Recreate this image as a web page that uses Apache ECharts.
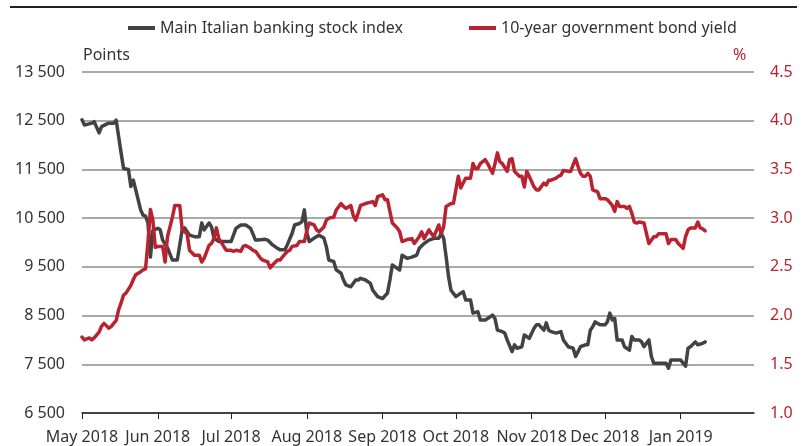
<!DOCTYPE html>
<html>
<head>
<meta charset="utf-8">
<script src="https://cdn.jsdelivr.net/npm/echarts@6/dist/echarts.min.js"></script>
<style>
  html, body { margin: 0; padding: 0; background: #fff; }
  #chart { width: 808px; height: 446px; }
</style>
</head>
<body>
<div id="chart"></div>
<script>
// Main Italian banking stock index (points)
const stockDates = [
  '2018-05-01','2018-05-02','2018-05-05','2018-05-06','2018-05-08','2018-05-09','2018-05-11','2018-05-12',
  '2018-05-14','2018-05-15','2018-05-16','2018-05-17','2018-05-18','2018-05-20','2018-05-21','2018-05-22',
  '2018-05-23','2018-05-25','2018-05-26','2018-05-27','2018-05-28','2018-05-29','2018-05-30','2018-06-01',
  '2018-06-02','2018-06-03','2018-06-05','2018-06-07','2018-06-09','2018-06-11','2018-06-12','2018-06-14',
  '2018-06-16','2018-06-18','2018-06-19','2018-06-20','2018-06-22','2018-06-23','2018-06-24','2018-06-26',
  '2018-06-28','2018-07-01','2018-07-03','2018-07-05','2018-07-07','2018-07-09','2018-07-11','2018-07-12',
  '2018-07-15','2018-07-16','2018-07-18','2018-07-20','2018-07-21','2018-07-23','2018-07-24','2018-07-26',
  '2018-07-27','2018-07-29','2018-07-30','2018-07-31','2018-08-01','2018-08-02','2018-08-04','2018-08-06',
  '2018-08-08','2018-08-09','2018-08-10','2018-08-12','2018-08-13','2018-08-15','2018-08-16','2018-08-17',
  '2018-08-19','2018-08-21','2018-08-22','2018-08-23','2018-08-25','2018-08-27','2018-08-28','2018-08-30',
  '2018-09-01','2018-09-03','2018-09-04','2018-09-05','2018-09-07','2018-09-08','2018-09-09','2018-09-11',
  '2018-09-13','2018-09-15','2018-09-16','2018-09-18','2018-09-20','2018-09-22','2018-09-24','2018-09-25',
  '2018-09-26','2018-09-27','2018-09-28','2018-09-29','2018-10-01','2018-10-03','2018-10-04','2018-10-05',
  '2018-10-07','2018-10-08','2018-10-10','2018-10-11','2018-10-13','2018-10-14','2018-10-16','2018-10-17',
  '2018-10-18','2018-10-20','2018-10-21','2018-10-22','2018-10-24','2018-10-25','2018-10-26','2018-10-28',
  '2018-10-29','2018-10-30','2018-10-31','2018-11-02','2018-11-03','2018-11-04','2018-11-06','2018-11-07',
  '2018-11-08','2018-11-09','2018-11-11','2018-11-13','2018-11-14','2018-11-16','2018-11-18','2018-11-19',
  '2018-11-20','2018-11-21','2018-11-23','2018-11-24','2018-11-25','2018-11-26','2018-11-27','2018-11-29',
  '2018-12-01','2018-12-02','2018-12-03','2018-12-04','2018-12-05','2018-12-06','2018-12-08','2018-12-09',
  '2018-12-11','2018-12-12','2018-12-13','2018-12-15','2018-12-16','2018-12-17','2018-12-18','2018-12-19',
  '2018-12-20','2018-12-21','2018-12-23','2018-12-26','2018-12-27','2018-12-28','2018-12-30','2019-01-01',
  '2019-01-02','2019-01-03','2019-01-04','2019-01-05','2019-01-07','2019-01-08','2019-01-10','2019-01-11'
];
const stockValues = [
  12520,12410,12450,12480,12250,12380,12430,12450,
  12450,12510,12170,11840,11520,11500,11150,11280,
  11080,10670,10560,10540,10400,9700,10250,10290,
  10260,10050,9890,9640,9640,10260,10300,10150,
  10120,10120,10400,10260,10400,10320,10090,10020,
  10020,10020,10290,10360,10360,10290,10050,10050,
  10065,10050,9950,9880,9850,9850,9950,10190,
  10360,10390,10430,10670,10200,10020,10090,10150,
  10090,9910,9640,9610,9440,9370,9230,9130,
  9090,9230,9230,9265,9230,9160,9020,8890,
  8850,8960,9230,9540,9470,9435,9740,9675,
  9700,9743,9880,9980,10050,10086,10086,10190,
  10086,9710,9300,9020,8890,8960,8990,8820,
  8820,8550,8580,8410,8410,8440,8510,8440,
  8200,8170,8140,8000,7760,7900,7830,7860,
  8100,8070,8030,8240,8310,8310,8200,8350,
  8200,8170,8140,8170,8000,7860,7830,7660,
  7760,7860,7900,7900,8200,8270,8370,8310,
  8310,8370,8550,8410,8440,8000,8000,7860,
  7790,8070,8000,8000,7960,7860,7930,8000,
  7660,7520,7520,7520,7420,7590,7590,7590,
  7520,7460,7830,7860,7960,7900,7930,7960
];

// 10-year government bond yield (%)
const yieldDates = [
  '2018-05-01','2018-05-02','2018-05-04','2018-05-05','2018-05-06','2018-05-08','2018-05-09','2018-05-10',
  '2018-05-12','2018-05-13','2018-05-15','2018-05-16','2018-05-17','2018-05-18','2018-05-19','2018-05-21',
  '2018-05-22','2018-05-23','2018-05-25','2018-05-26','2018-05-27','2018-05-28','2018-05-29','2018-05-30',
  '2018-05-31','2018-06-01','2018-06-03','2018-06-04','2018-06-05','2018-06-07','2018-06-08','2018-06-10',
  '2018-06-11','2018-06-13','2018-06-14','2018-06-16','2018-06-18','2018-06-19','2018-06-20','2018-06-22',
  '2018-06-23','2018-06-24','2018-06-25','2018-06-26','2018-06-28','2018-06-29','2018-07-01','2018-07-02',
  '2018-07-03','2018-07-05','2018-07-06','2018-07-07','2018-07-09','2018-07-10','2018-07-11','2018-07-13',
  '2018-07-14','2018-07-16','2018-07-17','2018-07-18','2018-07-20','2018-07-21','2018-07-22','2018-07-24',
  '2018-07-25','2018-07-26','2018-07-28','2018-07-29','2018-07-31','2018-08-01','2018-08-02','2018-08-04',
  '2018-08-05','2018-08-06','2018-08-08','2018-08-09','2018-08-10','2018-08-12','2018-08-13','2018-08-15',
  '2018-08-16','2018-08-17','2018-08-19','2018-08-20','2018-08-21','2018-08-22','2018-08-23','2018-08-25',
  '2018-08-28','2018-08-29','2018-08-30','2018-09-01','2018-09-02','2018-09-03','2018-09-05','2018-09-07',
  '2018-09-08','2018-09-09','2018-09-11','2018-09-13','2018-09-14','2018-09-16','2018-09-17','2018-09-18',
  '2018-09-20','2018-09-21','2018-09-22','2018-09-24','2018-09-25','2018-09-26','2018-09-27','2018-09-29',
  '2018-09-30','2018-10-01','2018-10-02','2018-10-03','2018-10-04','2018-10-05','2018-10-07','2018-10-08',
  '2018-10-09','2018-10-10','2018-10-11','2018-10-12','2018-10-13','2018-10-14','2018-10-16','2018-10-17',
  '2018-10-18','2018-10-19','2018-10-20','2018-10-22','2018-10-23','2018-10-24','2018-10-25','2018-10-27',
  '2018-10-28','2018-10-29','2018-10-30','2018-10-31','2018-11-02','2018-11-03','2018-11-04','2018-11-06',
  '2018-11-07','2018-11-08','2018-11-09','2018-11-11','2018-11-12','2018-11-13','2018-11-14','2018-11-16',
  '2018-11-17','2018-11-18','2018-11-19','2018-11-20','2018-11-21','2018-11-22','2018-11-23','2018-11-24',
  '2018-11-25','2018-11-26','2018-11-28','2018-11-29','2018-12-01','2018-12-02','2018-12-04','2018-12-05',
  '2018-12-06','2018-12-07','2018-12-09','2018-12-10','2018-12-11','2018-12-12','2018-12-13','2018-12-14',
  '2018-12-15','2018-12-17','2018-12-18','2018-12-19','2018-12-21','2018-12-22','2018-12-23','2018-12-26',
  '2018-12-27','2018-12-28','2018-12-30','2018-12-31','2019-01-02','2019-01-03','2019-01-04','2019-01-05',
  '2019-01-07','2019-01-08','2019-01-09','2019-01-10','2019-01-11'
];
const yieldValues = [
  1.78,1.75,1.77,1.75,1.77,1.83,1.89,1.92,
  1.87,1.89,1.95,2.06,2.13,2.21,2.23,2.31,
  2.37,2.42,2.45,2.47,2.48,2.75,3.09,2.98,
  2.70,2.71,2.71,2.55,2.81,3.01,3.13,3.13,
  2.88,2.84,2.67,2.62,2.62,2.55,2.59,2.72,
  2.74,2.79,2.90,2.79,2.71,2.67,2.67,2.66,
  2.67,2.66,2.71,2.72,2.69,2.67,2.66,2.59,
  2.57,2.55,2.49,2.52,2.57,2.57,2.60,2.66,
  2.67,2.71,2.72,2.76,2.76,2.87,2.95,2.93,
  2.88,2.86,2.91,2.98,3.00,3.01,3.08,3.15,
  3.12,3.10,3.13,3.03,2.98,3.05,3.13,3.15,
  3.17,3.13,3.22,3.24,3.19,3.19,2.95,2.90,
  2.86,2.76,2.78,2.79,2.74,2.81,2.86,2.79,
  2.88,2.84,2.81,2.93,2.84,2.91,3.12,3.15,
  3.15,3.29,3.43,3.31,3.36,3.41,3.41,3.56,
  3.51,3.51,3.56,3.58,3.60,3.56,3.46,3.56,
  3.67,3.58,3.56,3.48,3.60,3.61,3.48,3.43,
  3.43,3.32,3.48,3.43,3.32,3.29,3.29,3.36,
  3.34,3.39,3.39,3.41,3.43,3.44,3.49,3.48,
  3.48,3.55,3.61,3.53,3.46,3.43,3.43,3.46,
  3.43,3.29,3.27,3.20,3.20,3.19,3.13,3.07,
  3.17,3.12,3.12,3.10,3.12,3.05,2.96,2.95,
  2.96,2.95,2.84,2.74,2.81,2.81,2.84,2.84,
  2.74,2.78,2.78,2.74,2.69,2.81,2.88,2.90,
  2.90,2.96,2.90,2.89,2.87
];

const stockName = 'Main Italian banking stock index';
const yieldName = '10-year government bond yield';
const monthNames = ['Jan','Feb','Mar','Apr','May','Jun','Jul','Aug','Sep','Oct','Nov','Dec'];

// Daily category axis running from 1 May 2018 to 31 Jan 2019
const axisStart = '2018-05-01';
const axisEnd = '2019-01-31';
const days = [];
for (let t = Date.parse(axisStart + 'T00:00:00Z'); t <= Date.parse(axisEnd + 'T00:00:00Z'); t += 86400000) {
  days.push(new Date(t).toISOString().slice(0, 10));
}
const isMonthStart = (idx, val) => val.slice(8, 10) === '01';

const FONT = '"Noto Sans", sans-serif';
const GREY = '#424242';
const RED = '#b8232f';

const legendBase = {
  top: 20,
  itemWidth: 27,
  itemHeight: 4,
  icon: 'rect',
  padding: 0,
  textStyle: { fontFamily: FONT, fontSize: 16, color: '#333' }
};

const chart = echarts.init(document.getElementById('chart'), null, { renderer: 'canvas' });
chart.setOption({
  animation: false,
  backgroundColor: '#ffffff',
  textStyle: { fontFamily: FONT },
  grid: { left: 82, right: 54, top: 72, bottom: 33, containLabel: false },
  legend: [
    Object.assign({}, legendBase, { left: 128, data: [stockName] }),
    Object.assign({}, legendBase, { left: 469, data: [yieldName] })
  ],
  xAxis: {
    type: 'category',
    data: days,
    boundaryGap: false,
    axisLine: { lineStyle: { color: '#222', width: 1.5 } },
    axisTick: { interval: isMonthStart, length: 6, lineStyle: { color: '#222', width: 1 } },
    axisLabel: {
      interval: isMonthStart,
      margin: 16,
      fontFamily: FONT,
      fontSize: 16,
      color: '#333',
      formatter: v => monthNames[+v.slice(5, 7) - 1] + ' ' + v.slice(0, 4)
    },
    splitLine: { show: false }
  },
  yAxis: [
    {
      type: 'value',
      min: 6500,
      max: 13500,
      interval: 1000,
      axisLine: { show: false },
      axisTick: { show: false },
      axisLabel: {
        margin: 17,
        fontFamily: FONT,
        fontSize: 16,
        color: '#333',
        formatter: v => String(v).replace(/\B(?=(\d{3})+(?!\d))/g, ' ')
      },
      splitLine: { lineStyle: { color: '#8c8c8c', width: 1.5 } }
    },
    {
      type: 'value',
      min: 1.0,
      max: 4.5,
      interval: 0.5,
      position: 'right',
      axisLine: { show: false },
      axisTick: { show: false },
      axisLabel: {
        margin: 16,
        fontFamily: FONT,
        fontSize: 16,
        color: RED,
        formatter: v => v.toFixed(1)
      },
      splitLine: { show: false }
    }
  ],
  graphic: [
    { type: 'line', shape: { x1: 10, y1: 7, x2: 797, y2: 7 }, style: { stroke: '#222', lineWidth: 2 } },
    { type: 'text', left: 83, top: 47, style: { text: 'Points', font: '16px ' + FONT, fill: '#333' } },
    { type: 'text', left: 733, top: 47, style: { text: '%', font: '16px ' + FONT, fill: RED } }
  ],
  series: [
    {
      name: stockName,
      type: 'line',
      yAxisIndex: 0,
      showSymbol: false,
      symbol: 'none',
      lineStyle: { color: GREY, width: 3.5, cap: 'round', join: 'round' },
      itemStyle: { color: GREY },
      data: stockDates.map((d, i) => [d, stockValues[i]])
    },
    {
      name: yieldName,
      type: 'line',
      yAxisIndex: 1,
      showSymbol: false,
      symbol: 'none',
      lineStyle: { color: RED, width: 3.5, cap: 'round', join: 'round' },
      itemStyle: { color: RED },
      data: yieldDates.map((d, i) => [d, yieldValues[i]])
    }
  ]
});
</script>
</body>
</html>
